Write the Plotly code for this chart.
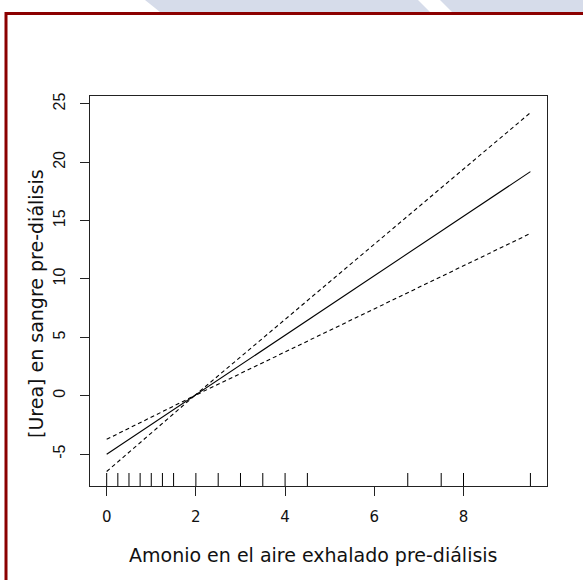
import plotly.graph_objects as go

# ---- data ----
x_line = [0.0, 1.97, 9.5]
fit = [-5.02, 0.0, 19.2]
upper = [-3.74, 0.0, 24.25]
lower = [-6.5, 0.0, 13.9]
x_rug = [0, 0.25, 0.5, 0.75, 1.0, 1.25, 1.5, 2.0, 2.5, 3.0, 3.5, 4.0, 4.5, 6.75, 7.5, 8.0, 9.5]
x_ticks = [0, 2, 4, 6, 8]
x_ticktext = ["0", "2", "4", "6", "8"]
y_ticks = [-5, 0, 5, 10, 15, 20, 25]
y_ticktext = ["-5", "0", "5", "10", "15", "20", "25"]
x_title = "Amonio en el aire exhalado pre-diálisis"
y_title = "[Urea] en sangre pre-diálisis"

W, H = 583, 580
L, R, T, B = 90, 36, 96, 94
PW, PH = W - L - R, H - T - B

def px(x):
    return (x - L) / PW

def py(y):
    return (H - B - y) / PH

fig = go.Figure()
fig.add_trace(go.Scatter(x=x_line, y=fit, mode="lines",
                         line=dict(color="black", width=1.1), hoverinfo="skip"))
fig.add_trace(go.Scatter(x=x_line, y=upper, mode="lines",
                         line=dict(color="black", width=1.1, dash="4px,3px"), hoverinfo="skip"))
fig.add_trace(go.Scatter(x=x_line, y=lower, mode="lines",
                         line=dict(color="black", width=1.1, dash="4px,3px"), hoverinfo="skip"))

shapes = []
for xv in x_rug:
    shapes.append(dict(type="line", xref="x", yref="paper", x0=xv, x1=xv, y0=0, y1=13 / PH,
                       line=dict(color="black", width=1)))

# watermark strip at top
shapes.append(dict(type="path", xref="paper", yref="paper",
                   path=f"M {px(145)} {py(0)} L {px(418)} {py(0)} L {px(430)} {py(12)} L {px(160)} {py(12)} Z",
                   fillcolor="#d6dcea", line=dict(width=0), layer="below"))
shapes.append(dict(type="path", xref="paper", yref="paper",
                   path=f"M {px(440)} {py(0)} L {px(590)} {py(0)} L {px(590)} {py(12)} L {px(452)} {py(12)} Z",
                   fillcolor="#d6dcea", line=dict(width=0), layer="below"))
# red frame
shapes.append(dict(type="rect", xref="paper", yref="paper",
                   x0=px(6), x1=px(600), y0=py(600), y1=py(13.5),
                   line=dict(color="#8b0000", width=3), layer="below"))

annotations = [
    dict(text=x_title, xref="paper", yref="paper", x=px(313), y=py(555),
         xanchor="center", yanchor="middle", showarrow=False,
         font=dict(family="DejaVu Sans", size=19, color="#111")),
    dict(text=y_title, xref="paper", yref="paper", x=px(36), y=py(304),
         xanchor="center", yanchor="middle", showarrow=False, textangle=-90,
         font=dict(family="DejaVu Sans", size=19, color="#111")),
]

fig.update_layout(
    width=W, height=H,
    margin=dict(l=L, r=R, t=T, b=B, pad=0),
    paper_bgcolor="white", plot_bgcolor="white",
    showlegend=False,
    shapes=shapes, annotations=annotations,
    xaxis=dict(range=[-0.374, 9.872], tickvals=x_ticks, ticktext=x_ticktext,
               showgrid=False, zeroline=False, showline=True, mirror=True,
               linecolor="#222", linewidth=1, ticks="outside", ticklen=9,
               tickcolor="#222", tickwidth=1, ticklabelstandoff=8,
               tickfont=dict(family="DejaVu Sans", size=15, color="#111")),
    yaxis=dict(range=[-7.74, 25.68], tickvals=y_ticks, ticktext=y_ticktext,
               showgrid=False, zeroline=False, showline=True, mirror=True,
               linecolor="#222", linewidth=1, ticks="outside", ticklen=9,
               tickcolor="#222", tickwidth=1, tickangle=-90, ticklabelstandoff=9,
               tickfont=dict(family="Liberation Sans", size=16, color="#111")),
)

fig.write_html("out.html")
